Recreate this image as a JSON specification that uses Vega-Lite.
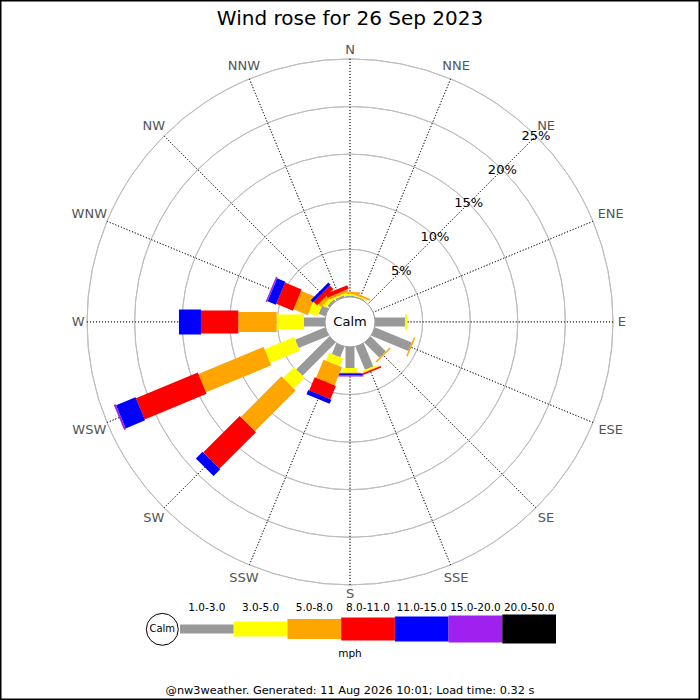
{
  "$schema": "https://vega.github.io/schema/vega-lite/v6.json",
  "width": 700,
  "height": 700,
  "padding": 0,
  "autosize": {"type": "none"},
  "background": "white",
  "title": {
    "text": "Wind rose for 26 Sep 2023",
    "fontSize": 20,
    "fontWeight": "normal",
    "color": "#000",
    "anchor": "middle",
    "baseline": "alphabetic",
    "offset": -45
  },
  "config": {
    "font": "DejaVu Sans",
    "view": {"stroke": "#000", "strokeWidth": 3}
  },
  "datasets": {
    "rose": [
      {"dir": 0, "speed": "1.0-3.0", "lo": 1, "pct": 0.15},
      {"dir": 0, "speed": "3.0-5.0", "lo": 3, "pct": 0.15},
      {"dir": 0, "speed": "5.0-8.0", "lo": 5, "pct": 0.2},
      {"dir": 22.5, "speed": "1.0-3.0", "lo": 1, "pct": 0.1},
      {"dir": 22.5, "speed": "3.0-5.0", "lo": 3, "pct": 0.1},
      {"dir": 22.5, "speed": "5.0-8.0", "lo": 5, "pct": 0.2},
      {"dir": 90, "speed": "1.0-3.0", "lo": 1, "pct": 3.15},
      {"dir": 90, "speed": "3.0-5.0", "lo": 3, "pct": 0.24},
      {"dir": 112.5, "speed": "1.0-3.0", "lo": 1, "pct": 4.2},
      {"dir": 112.5, "speed": "5.0-8.0", "lo": 5, "pct": 0.16},
      {"dir": 135, "speed": "1.0-3.0", "lo": 1, "pct": 2.21},
      {"dir": 135, "speed": "5.0-8.0", "lo": 5, "pct": 0.16},
      {"dir": 157.5, "speed": "1.0-3.0", "lo": 1, "pct": 2.63},
      {"dir": 157.5, "speed": "3.0-5.0", "lo": 3, "pct": 0.21},
      {"dir": 157.5, "speed": "5.0-8.0", "lo": 5, "pct": 0.05},
      {"dir": 157.5, "speed": "8.0-11.0", "lo": 8, "pct": 0.16},
      {"dir": 180, "speed": "1.0-3.0", "lo": 1, "pct": 2.21},
      {"dir": 180, "speed": "3.0-5.0", "lo": 3, "pct": 0.47},
      {"dir": 180, "speed": "5.0-8.0", "lo": 5, "pct": 0.05},
      {"dir": 180, "speed": "8.0-11.0", "lo": 8, "pct": 0.1},
      {"dir": 180, "speed": "11.0-15.0", "lo": 11, "pct": 0.14},
      {"dir": 180, "speed": "15.0-20.0", "lo": 15, "pct": 0.13},
      {"dir": 202.5, "speed": "1.0-3.0", "lo": 1, "pct": 1.21},
      {"dir": 202.5, "speed": "3.0-5.0", "lo": 3, "pct": 0.89},
      {"dir": 202.5, "speed": "5.0-8.0", "lo": 5, "pct": 2.06},
      {"dir": 202.5, "speed": "8.0-11.0", "lo": 8, "pct": 1.51},
      {"dir": 202.5, "speed": "11.0-15.0", "lo": 11, "pct": 0.47},
      {"dir": 225, "speed": "1.0-3.0", "lo": 1, "pct": 4.9},
      {"dir": 225, "speed": "3.0-5.0", "lo": 3, "pct": 1.61},
      {"dir": 225, "speed": "5.0-8.0", "lo": 5, "pct": 6.04},
      {"dir": 225, "speed": "8.0-11.0", "lo": 8, "pct": 5.41},
      {"dir": 225, "speed": "11.0-15.0", "lo": 11, "pct": 1.0},
      {"dir": 247.5, "speed": "1.0-3.0", "lo": 1, "pct": 3.41},
      {"dir": 247.5, "speed": "3.0-5.0", "lo": 3, "pct": 3.36},
      {"dir": 247.5, "speed": "5.0-8.0", "lo": 5, "pct": 7.41},
      {"dir": 247.5, "speed": "8.0-11.0", "lo": 8, "pct": 7.04},
      {"dir": 247.5, "speed": "11.0-15.0", "lo": 11, "pct": 2.21},
      {"dir": 247.5, "speed": "15.0-20.0", "lo": 15, "pct": 0.21},
      {"dir": 270, "speed": "1.0-3.0", "lo": 1, "pct": 2.21},
      {"dir": 270, "speed": "3.0-5.0", "lo": 3, "pct": 2.87},
      {"dir": 270, "speed": "5.0-8.0", "lo": 5, "pct": 4.03},
      {"dir": 270, "speed": "8.0-11.0", "lo": 8, "pct": 3.92},
      {"dir": 270, "speed": "11.0-15.0", "lo": 11, "pct": 2.31},
      {"dir": 292.5, "speed": "1.0-3.0", "lo": 1, "pct": 0.74},
      {"dir": 292.5, "speed": "3.0-5.0", "lo": 3, "pct": 1.02},
      {"dir": 292.5, "speed": "5.0-8.0", "lo": 5, "pct": 1.61},
      {"dir": 292.5, "speed": "8.0-11.0", "lo": 8, "pct": 1.89},
      {"dir": 292.5, "speed": "11.0-15.0", "lo": 11, "pct": 0.95},
      {"dir": 292.5, "speed": "15.0-20.0", "lo": 15, "pct": 0.16},
      {"dir": 315, "speed": "1.0-3.0", "lo": 1, "pct": 0.26},
      {"dir": 315, "speed": "3.0-5.0", "lo": 3, "pct": 0.37},
      {"dir": 315, "speed": "5.0-8.0", "lo": 5, "pct": 0.42},
      {"dir": 315, "speed": "8.0-11.0", "lo": 8, "pct": 0.53},
      {"dir": 315, "speed": "11.0-15.0", "lo": 11, "pct": 0.32},
      {"dir": 337.5, "speed": "1.0-3.0", "lo": 1, "pct": 0.21},
      {"dir": 337.5, "speed": "3.0-5.0", "lo": 3, "pct": 0.16},
      {"dir": 337.5, "speed": "5.0-8.0", "lo": 5, "pct": 0.26},
      {"dir": 337.5, "speed": "8.0-11.0", "lo": 8, "pct": 0.42}
    ],
    "rings": [
      {"pct": 5, "label": "5%"},
      {"pct": 10, "label": "10%"},
      {"pct": 15, "label": "15%"},
      {"pct": 20, "label": "20%"},
      {"pct": 25, "label": "25%"}
    ],
    "compass": [
      {"dir": 0, "label": "N"},
      {"dir": 22.5, "label": "NNE"},
      {"dir": 45, "label": "NE"},
      {"dir": 67.5, "label": "ENE"},
      {"dir": 90, "label": "E"},
      {"dir": 112.5, "label": "ESE"},
      {"dir": 135, "label": "SE"},
      {"dir": 157.5, "label": "SSE"},
      {"dir": 180, "label": "S"},
      {"dir": 202.5, "label": "SSW"},
      {"dir": 225, "label": "SW"},
      {"dir": 247.5, "label": "WSW"},
      {"dir": 270, "label": "W"},
      {"dir": 292.5, "label": "WNW"},
      {"dir": 315, "label": "NW"},
      {"dir": 337.5, "label": "NNW"}
    ],
    "bins": [
      {"speed": "1.0-3.0", "lo": 1},
      {"speed": "3.0-5.0", "lo": 3},
      {"speed": "5.0-8.0", "lo": 5},
      {"speed": "8.0-11.0", "lo": 8},
      {"speed": "11.0-15.0", "lo": 11},
      {"speed": "15.0-20.0", "lo": 15},
      {"speed": "20.0-50.0", "lo": 20}
    ]
  },
  "layer": [
    {
      "data": {"name": "rings"},
      "mark": {"type": "arc", "filled": false, "stroke": "#bdbdbd", "strokeWidth": 1},
      "encoding": {
        "y": {"datum": 0, "type": "quantitative", "scale": {"domain": [-39.7, 33.8], "zero": false, "nice": false}, "axis": null},
        "theta": {"datum": 0, "type": "quantitative", "scale": {"domain": [0, 360], "range": [0, 6.283185307179586]}},
        "theta2": {"datum": 360},
        "radius": {"field": "pct", "type": "quantitative", "scale": {"type": "linear", "domain": [0, 25], "range": [25, 263], "zero": false, "nice": false}},
        "radius2": {"field": "pct"}
      }
    },
    {
      "data": {"name": "compass"},
      "mark": {"type": "arc", "filled": false, "stroke": "#333", "strokeWidth": 1, "strokeDash": [1, 2.00633]},
      "encoding": {
        "y": {"datum": 0, "type": "quantitative"},
        "theta": {"field": "dir", "type": "quantitative"},
        "theta2": {"field": "dir"},
        "radius": {"datum": 25, "type": "quantitative"}
      }
    },
    {
      "data": {"name": "rose"},
      "mark": {"type": "arc", "filled": false, "strokeJoin": "bevel"},
      "encoding": {
        "y": {"datum": 0, "type": "quantitative"},
        "theta": {"field": "dir", "type": "quantitative"},
        "theta2": {"field": "dir"},
        "radius": {"field": "pct", "type": "quantitative", "stack": true},
        "order": {"field": "lo", "type": "quantitative"},
        "color": {
          "field": "speed",
          "type": "nominal",
          "scale": {
            "domain": ["1.0-3.0", "3.0-5.0", "5.0-8.0", "8.0-11.0", "11.0-15.0", "15.0-20.0", "20.0-50.0"],
            "range": ["#999999", "#ffff00", "#ffa500", "#ff0000", "#0000ff", "#a020f0", "#000000"]
          },
          "legend": null
        },
        "strokeWidth": {
          "field": "speed",
          "type": "ordinal",
          "scale": {
            "type": "ordinal",
            "domain": ["1.0-3.0", "3.0-5.0", "5.0-8.0", "8.0-11.0", "11.0-15.0", "15.0-20.0", "20.0-50.0"],
            "range": [9, 15, 20, 23, 25, 27, 29]
          },
          "legend": null
        }
      }
    },
    {
      "data": {"values": [{"label": "Calm"}]},
      "mark": {"type": "arc", "fill": "white", "stroke": "#999", "strokeWidth": 1},
      "encoding": {
        "y": {"datum": 0, "type": "quantitative"},
        "theta": {"datum": 0, "type": "quantitative"},
        "theta2": {"datum": 360},
        "radius": {"datum": 0, "type": "quantitative"},
        "radius2": {"value": 0}
      }
    },
    {
      "data": {"values": [{"label": "Calm"}]},
      "mark": {"type": "text", "fontSize": 13, "color": "#000"},
      "encoding": {
        "y": {"datum": 0, "type": "quantitative"},
        "text": {"field": "label"}
      }
    },
    {
      "data": {"name": "compass"},
      "mark": {
        "type": "text",
        "fontSize": 13,
        "color": "#555",
        "radiusOffset": {"expr": "4 + 4.8*length(datum.label)*abs(sin(datum.dir*PI/180)) + 5*abs(cos(datum.dir*PI/180))"}
      },
      "encoding": {
        "y": {"datum": 0, "type": "quantitative"},
        "theta": {"field": "dir", "type": "quantitative"},
        "radius": {"datum": 25, "type": "quantitative"},
        "text": {"field": "label"}
      }
    },
    {
      "data": {"name": "rings"},
      "mark": {"type": "text", "fontSize": 13, "color": "#000"},
      "encoding": {
        "y": {"datum": 0, "type": "quantitative"},
        "theta": {"datum": 45, "type": "quantitative"},
        "radius": {"field": "pct", "type": "quantitative"},
        "text": {"field": "label"}
      }
    },
    {
      "data": {"name": "bins"},
      "mark": {"type": "rule"},
      "encoding": {
        "x": {
          "field": "speed",
          "type": "nominal",
          "bandPosition": 0,
          "scale": {
            "type": "band",
            "domain": ["Calm", "1.0-3.0", "3.0-5.0", "5.0-8.0", "8.0-11.0", "11.0-15.0", "15.0-20.0", "20.0-50.0"],
            "range": [126.3, 556],
            "paddingInner": 0,
            "paddingOuter": 0
          },
          "axis": null
        },
        "x2": {"field": "speed", "bandPosition": 1},
        "y": {"datum": -32.25, "type": "quantitative"},
        "color": {"field": "speed", "type": "nominal", "legend": null},
        "strokeWidth": {
          "field": "speed",
          "type": "ordinal",
          "scale": {
            "type": "ordinal",
            "domain": ["1.0-3.0", "3.0-5.0", "5.0-8.0", "8.0-11.0", "11.0-15.0", "15.0-20.0", "20.0-50.0"],
            "range": [9, 15, 20, 23, 25, 27, 29]
          },
          "legend": null
        }
      }
    },
    {
      "data": {"name": "bins"},
      "mark": {"type": "text", "fontSize": 10.5, "color": "#000"},
      "encoding": {
        "x": {"field": "speed", "type": "nominal"},
        "y": {"datum": -30.07, "type": "quantitative"},
        "text": {"field": "speed"}
      }
    },
    {
      "data": {"values": [{"speed": "Calm"}]},
      "mark": {"type": "point", "shape": "circle", "size": 1018, "filled": true, "fill": "white", "stroke": "#000", "strokeWidth": 1, "opacity": 1},
      "encoding": {
        "x": {"field": "speed", "type": "nominal", "bandPosition": 0.67},
        "y": {"datum": -32.28, "type": "quantitative"}
      }
    },
    {
      "data": {"values": [{"speed": "Calm"}]},
      "mark": {"type": "text", "fontSize": 10, "color": "#000"},
      "encoding": {
        "x": {"field": "speed", "type": "nominal", "bandPosition": 0.67},
        "y": {"datum": -32.28, "type": "quantitative"},
        "text": {"field": "speed"}
      }
    },
    {
      "data": {"values": [{"label": "mph"}]},
      "mark": {"type": "text", "fontSize": 10.5, "color": "#000"},
      "encoding": {
        "y": {"datum": -34.87, "type": "quantitative"},
        "text": {"field": "label"}
      }
    },
    {
      "data": {"values": [{"label": "@nw3weather. Generated: 11 Aug 2026 10:01; Load time: 0.32 s"}]},
      "mark": {"type": "text", "fontSize": 11.3, "color": "#000"},
      "encoding": {
        "y": {"datum": -38.76, "type": "quantitative"},
        "text": {"field": "label"}
      }
    }
  ]
}
